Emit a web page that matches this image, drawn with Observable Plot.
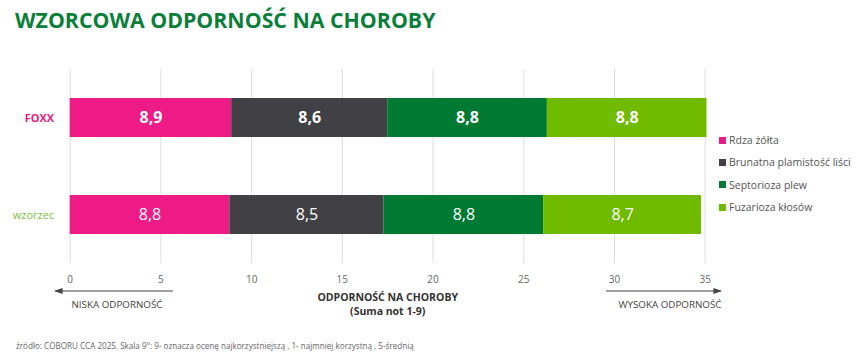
<!DOCTYPE html>
<html>
<head>
<meta charset="utf-8">
<script src="https://cdn.jsdelivr.net/npm/d3@7"></script>
<script src="https://cdn.jsdelivr.net/npm/@observablehq/plot@0.6"></script>
<style>
  html, body { margin: 0; padding: 0; background: #fff; }
  body { font-family: "Open Sans", sans-serif; }
  #wrap { position: relative; width: 860px; height: 360px; overflow: hidden; }
  #title { position: absolute; left: 15px; top: 5px; font-size: 21.3px; font-weight: 700; color: #0a7f3a; white-space: nowrap; }
  #chart { position: absolute; left: 0; top: 40px; }
  #legend { position: absolute; left: 719px; top: 129px; font-size: 10.5px; color: #555; }
  #legend .item { height: 22.3px; display: flex; align-items: center; white-space: nowrap; }
  #legend .sw { width: 7px; height: 7px; margin-right: 3px; }
  #caption { position: absolute; left: 16px; top: 340px; font-size: 8.1px; color: #666; white-space: nowrap; }
  #overlay { position: absolute; left: 0; top: 0; pointer-events: none; }
  .ann { position: absolute; font-size: 9.8px; color: #444; white-space: nowrap; transform: translateX(-50%); }
</style>
</head>
<body>
<div id="wrap">
  <div id="title">WZORCOWA ODPORNOŚĆ NA CHOROBY</div>
  <div id="chart"></div>
  <div id="legend"></div>
  <svg id="overlay" width="860" height="360">
    <defs>
      <marker id="ah" viewBox="0 0 10 10" refX="9" refY="5" markerWidth="7" markerHeight="7" orient="auto-start-reverse">
        <path d="M0,1.5 L10,5 L0,8.5 z" fill="#444"></path>
      </marker>
    </defs>
    <line x1="173" y1="291" x2="55" y2="291" stroke="#444" stroke-width="1.2" marker-end="url(#ah)"></line>
    <line x1="606" y1="291" x2="721" y2="291" stroke="#444" stroke-width="1.2" marker-end="url(#ah)"></line>
  </svg>
  <div class="ann" style="left:117px; top:298px;">NISKA ODPORNOŚĆ</div>
  <div class="ann" style="left:670px; top:298px;">WYSOKA ODPORNOŚĆ</div>
  <div id="caption">źródło: COBORU CCA 2025. Skala 9°: 9- oznacza ocenę najkorzystniejszą , 1- najmniej korzystną , 5-średnią</div>
</div>
<script>
const categories = ["FOXX", "wzorzec"];
const series = ["Rdza żółta", "Brunatna plamistość liści", "Septorioza plew", "Fuzarioza kłosów"];
const foxxValues = [8.9, 8.6, 8.8, 8.8];
const wzorzecValues = [8.8, 8.5, 8.8, 8.7];
const seriesColors = ["#ee1a86", "#414145", "#007a33", "#70ba00"];
const xTicks = [0, 5, 10, 15, 20, 25, 30, 35];
const axisTitle = ["ODPORNOŚĆ NA CHOROBY", "(Suma not 1-9)"];
const categoryColors = ["#e8197f", "#7cc142"];

const valuesByCategory = [foxxValues, wzorzecValues];
const data = [];
categories.forEach((c, ci) => {
  series.forEach((s, si) => {
    data.push({category: c, series: s, value: valuesByCategory[ci][si]});
  });
});
const fmt = v => v.toFixed(1).replace(".", ",");

const plot = Plot.plot({
  width: 860,
  height: 290,
  marginTop: 29,
  marginBottom: 67,
  marginLeft: 69.7,
  marginRight: 155.3,
  style: {fontFamily: "Open Sans, sans-serif", fontSize: "10px", color: "#666"},
  x: {domain: [0, 35], ticks: xTicks, tickSize: 0, tickPadding: 12, label: null, tickFormat: d => String(d)},
  y: {domain: categories, paddingInner: 0.6, paddingOuter: 0.3, axis: null},
  color: {domain: series, range: seriesColors},
  marks: [
    Plot.ruleX(xTicks, {stroke: "#dcdcdc", strokeWidth: 1}),
    Plot.barX(data, Plot.stackX({x: "value", y: "category", z: "series", fill: "series", order: series})),
    Plot.text(data.filter(d => d.category === categories[0]), Plot.stackX({
      x: "value", y: "category", z: "series", order: series, text: d => fmt(d.value),
      fill: "white", fontSize: 16, fontWeight: 700
    })),
    Plot.text(data.filter(d => d.category === categories[1]), Plot.stackX({
      x: "value", y: "category", z: "series", order: series, text: d => fmt(d.value),
      fill: "white", fontSize: 16, fontWeight: 400
    })),
    Plot.text([categories[0]], {x: 0, y: d => d, text: d => d, textAnchor: "end", dx: -16, fill: categoryColors[0], fontWeight: 700, fontSize: 11}),
    Plot.text([categories[1]], {x: 0, y: d => d, text: d => d, textAnchor: "end", dx: -16, fill: categoryColors[1], fontWeight: 400, fontSize: 11}),
    Plot.text([axisTitle.join("\n")], {frameAnchor: "bottom", lineAnchor: "top", dy: 28, lineHeight: 1.3, fontWeight: 700, fill: "#333", fontSize: 10.5})
  ]
});
document.getElementById("chart").appendChild(plot);

const legend = document.getElementById("legend");
series.forEach((s, i) => {
  const item = document.createElement("div");
  item.className = "item";
  const sw = document.createElement("span");
  sw.className = "sw";
  sw.style.background = seriesColors[i];
  const t = document.createElement("span");
  t.textContent = s;
  item.appendChild(sw);
  item.appendChild(t);
  legend.appendChild(item);
});
</script>
</body>
</html>
